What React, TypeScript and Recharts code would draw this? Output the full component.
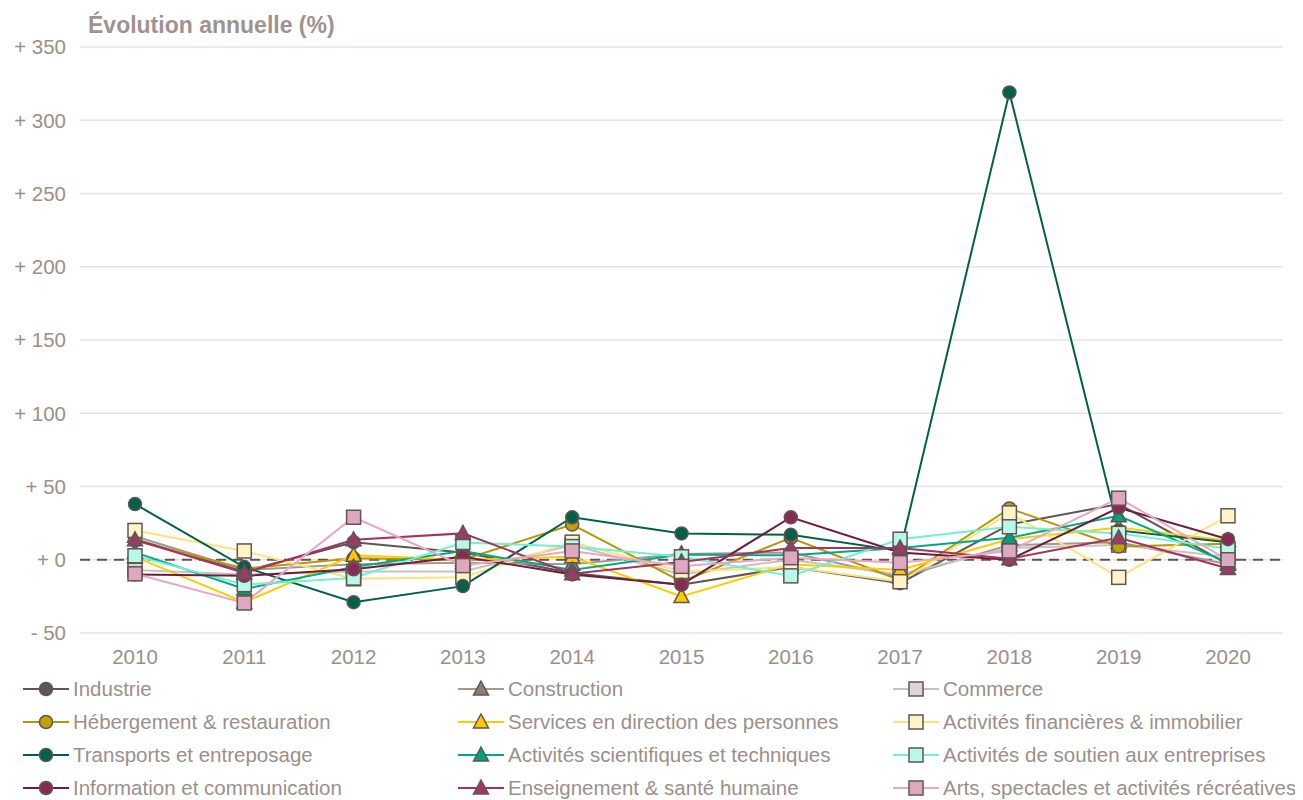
import React from "react";
import { LineChart, Line, XAxis, YAxis, CartesianGrid, ReferenceLine } from "recharts";

const years = ["2010", "2011", "2012", "2013", "2014", "2015", "2016", "2017", "2018", "2019", "2020"];
const yTicks = [-50, 0, 50, 100, 150, 200, 250, 300, 350];

const industrie = [14, -8, 12, 5, -9, -17, -5, -16, 24, 38, -3];
const construction = [16, -7, -3, -2, -3, 4, 5, -12, 10, 12, -3];
const commerce = [-7, -10, -8, -8, 10, -10, 0, -10, 8, 10, 2];
const hebergement = [13, -6, 1, 0, 24, -15, 15, -14, 35, 9, 11];
const services = [2, -29, 3, 0, 2, -25, -3, -7, 14, 22, 13];
const financieres = [20, 6, -13, -12, 12, -8, -5, -15, 32, -12, 30];
const transports = [38, -5, -29, -18, 29, 18, 17, 6, 319, 20, 12];
const scientifiques = [5, -20, -5, 6, -7, 3.5, 3, 8, 15, 30, -2];
const soutien = [2.7, -17, -12.5, 11.8, 9, 2, -11, 14, 22.5, 18, 7.5];
const information = [-10, -11, -6.5, 2, -10, -17, 29, 5, 0, 35.5, 14];
const enseignement = [13.6, -9, 13.6, 18, -9.6, -1.5, 8, 8, 0.7, 15, -6];
const arts = [-9.6, -29.5, 29, -4, 6, -4.5, 1.4, -2, 6, 42, 0];

type Shape = "circle" | "triangle" | "square";

const series: { key: string; name: string; values: number[]; stroke: string; fill: string; shape: Shape }[] = [
  { key: "industrie", name: "Industrie", values: industrie, stroke: "#5f5553", fill: "#5f5553", shape: "circle" },
  { key: "construction", name: "Construction", values: construction, stroke: "#a39792", fill: "#8a7d78", shape: "triangle" },
  { key: "commerce", name: "Commerce", values: commerce, stroke: "#c9c1bd", fill: "#ddd6d3", shape: "square" },
  { key: "hebergement", name: "Hébergement & restauration", values: hebergement, stroke: "#b8960a", fill: "#c4a000", shape: "circle" },
  { key: "services", name: "Services en direction des personnes", values: services, stroke: "#ffcc00", fill: "#ffc800", shape: "triangle" },
  { key: "financieres", name: "Activités financières & immobilier", values: financieres, stroke: "#ffe27a", fill: "#fff3c8", shape: "square" },
  { key: "transports", name: "Transports et entreposage", values: transports, stroke: "#00604a", fill: "#00604a", shape: "circle" },
  { key: "scientifiques", name: "Activités scientifiques et techniques", values: scientifiques, stroke: "#00a884", fill: "#00a07c", shape: "triangle" },
  { key: "soutien", name: "Activités de soutien aux entreprises", values: soutien, stroke: "#72f0d2", fill: "#b8f8e8", shape: "square" },
  { key: "information", name: "Information et communication", values: information, stroke: "#6b1f3f", fill: "#8a2a50", shape: "circle" },
  { key: "enseignement", name: "Enseignement & santé humaine", values: enseignement, stroke: "#a3335f", fill: "#9e3a65", shape: "triangle" },
  { key: "arts", name: "Arts, spectacles et activités récréatives", values: arts, stroke: "#e6a8c2", fill: "#e0a8c0", shape: "square" },
];

const data = years.map((year, i) => {
  const row: Record<string, string | number> = { year };
  series.forEach((s) => {
    row[s.key] = s.values[i];
  });
  return row;
});

const BORDER = "#5f5553";
const TEXT = "#9c8f8a";
const FONT = "'Liberation Sans', Arial, sans-serif";

function Marker({ shape, fill, cx, cy }: { shape: Shape; fill: string; cx: number; cy: number }) {
  if (shape === "circle") {
    return <circle cx={cx} cy={cy} r={6.5} fill={fill} stroke={BORDER} strokeWidth={1.5} />;
  }
  if (shape === "square") {
    return <rect x={cx - 7} y={cy - 7} width={14} height={14} fill={fill} stroke={BORDER} strokeWidth={1.5} />;
  }
  return (
    <polygon
      points={`${cx},${cy - 8} ${cx + 7.5},${cy + 6} ${cx - 7.5},${cy + 6}`}
      fill={fill}
      stroke={BORDER}
      strokeWidth={1.5}
    />
  );
}

const fmt = (v: number) => (v < 0 ? `- ${Math.abs(v)}` : `+ ${v}`);

export default function App() {
  return (
    <div
      style={{
        position: "relative",
        width: 1303,
        height: 800,
        margin: "-8px -8px 0 -8px",
        background: "#fff",
        fontFamily: FONT,
        overflow: "hidden",
      }}
    >
      <div
        style={{
          position: "absolute",
          left: 88,
          top: 12,
          fontSize: 23,
          fontWeight: "bold",
          color: "#a09290",
        }}
      >
        Évolution annuelle (%)
      </div>
      <div style={{ position: "absolute", left: 0, top: 0 }}>
        <LineChart width={1303} height={670} data={data} margin={{ top: 47, right: 20, bottom: 7, left: 0 }}>
          <CartesianGrid vertical={false} stroke="#e8e2e2" strokeWidth={1.5} />
          <XAxis
            dataKey="year"
            axisLine={false}
            tickLine={false}
            tickMargin={10}
            padding={{ left: 55, right: 55 }}
            tick={{ fill: TEXT, fontSize: 20.5, fontFamily: FONT }}
            interval={0}
          />
          <YAxis
            width={80}
            domain={[-50, 350]}
            ticks={yTicks}
            axisLine={false}
            tickLine={false}
            tickMargin={8}
            tickFormatter={fmt}
            tick={{ fill: TEXT, fontSize: 20.5, fontFamily: FONT }}
          />
          <ReferenceLine y={0} stroke={BORDER} strokeDasharray="10 7" strokeWidth={2} />
          {series.map((s) => (
            <Line
              key={s.key}
              dataKey={s.key}
              name={s.name}
              stroke={s.stroke}
              strokeWidth={2}
              isAnimationActive={false}
              dot={(p: any) => <Marker key={`${s.key}-${p.index}`} shape={s.shape} fill={s.fill} cx={p.cx} cy={p.cy} />}
              activeDot={false}
            />
          ))}
        </LineChart>
      </div>
      {series.map((s, i) => {
        const col = i % 3;
        const row = Math.floor(i / 3);
        const left = [23, 458, 893][col];
        const top = 689 + row * 33;
        return (
          <div key={s.key} style={{ position: "absolute", left, top: top - 12, height: 24, display: "flex", alignItems: "center" }}>
            <svg width={46} height={24}>
              <line x1={0} y1={12} x2={46} y2={12} stroke={s.stroke} strokeWidth={2} />
              <Marker shape={s.shape} fill={s.fill} cx={23} cy={12} />
            </svg>
            <span style={{ marginLeft: 4, fontSize: 20.5, color: TEXT, whiteSpace: "nowrap" }}>{s.name}</span>
          </div>
        );
      })}
    </div>
  );
}
